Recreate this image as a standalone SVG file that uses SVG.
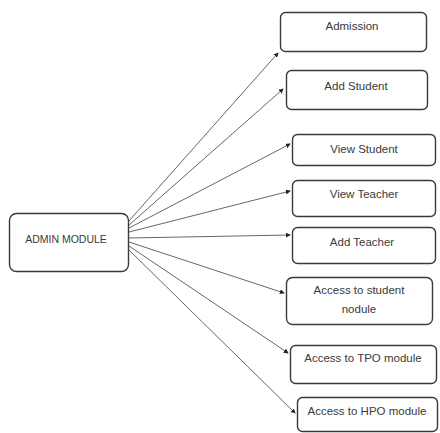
<svg xmlns="http://www.w3.org/2000/svg" width="440" height="433" viewBox="0 0 440 433">
  <style>
    .box { fill: #ffffff; stroke: #3a3a3a; stroke-width: 1.4; }
    .lbl { font-family: "Liberation Sans", Arial, sans-serif; font-size: 11.5px; fill: #3a3a3a; text-anchor: middle; }
    .main { font-size: 10.5px; }
    .edge { stroke: #666666; stroke-width: 1; fill: none; marker-end: url(#head); }
  </style>
  <defs>
    <marker id="head" viewBox="0 0 6 6" refX="5" refY="3" markerWidth="5" markerHeight="5" orient="auto" markerUnits="userSpaceOnUse">
      <path d="M0,0 L6,3 L0,6 Z" fill="#222222"/>
    </marker>
  </defs>
  <rect width="440" height="433" fill="#ffffff"/>

  <g id="connectors">
    <line class="edge" x1="128" y1="222" x2="278" y2="53"/>
    <line class="edge" x1="129" y1="225" x2="283" y2="89"/>
    <line class="edge" x1="129" y1="228" x2="290" y2="144"/>
    <line class="edge" x1="129" y1="232" x2="290" y2="191"/>
    <line class="edge" x1="129" y1="238" x2="290" y2="235"/>
    <line class="edge" x1="129" y1="242" x2="284" y2="293"/>
    <line class="edge" x1="129" y1="246" x2="288" y2="353"/>
    <line class="edge" x1="129" y1="250" x2="295" y2="413"/>
  </g>

  <g id="admin-module">
    <rect class="box" x="9.5" y="213.5" width="119" height="58" rx="7"/>
    <text class="lbl main" x="66" y="243">ADMIN MODULE</text>
  </g>

  <g id="admission">
    <rect class="box" x="280.5" y="12.5" width="146" height="39" rx="5"/>
    <text class="lbl" x="352" y="30">Admission</text>
  </g>

  <g id="add-student">
    <rect class="box" x="286.5" y="70.5" width="141" height="39" rx="5"/>
    <text class="lbl" x="356" y="90">Add Student</text>
  </g>

  <g id="view-student">
    <rect class="box" x="292.5" y="134.5" width="143" height="31" rx="5"/>
    <text class="lbl" x="364" y="153">View Student</text>
  </g>

  <g id="view-teacher">
    <rect class="box" x="292.5" y="180.5" width="143" height="36" rx="5"/>
    <text class="lbl" x="364" y="198">View Teacher</text>
  </g>

  <g id="add-teacher">
    <rect class="box" x="292.5" y="227.5" width="143" height="36" rx="5"/>
    <text class="lbl" x="362" y="246">Add Teacher</text>
  </g>

  <g id="access-student">
    <rect class="box" x="286.5" y="277.5" width="146" height="47" rx="6"/>
    <text class="lbl" x="359" y="294">Access to student</text>
    <text class="lbl" x="359" y="313">nodule</text>
  </g>

  <g id="access-tpo">
    <rect class="box" x="290.5" y="345.5" width="146" height="38" rx="5"/>
    <text class="lbl" x="363" y="362">Access to TPO module</text>
  </g>

  <g id="access-hpo">
    <rect class="box" x="297.5" y="397.5" width="140" height="34" rx="5"/>
    <text class="lbl" x="367" y="415">Access to HPO module</text>
  </g>
</svg>
